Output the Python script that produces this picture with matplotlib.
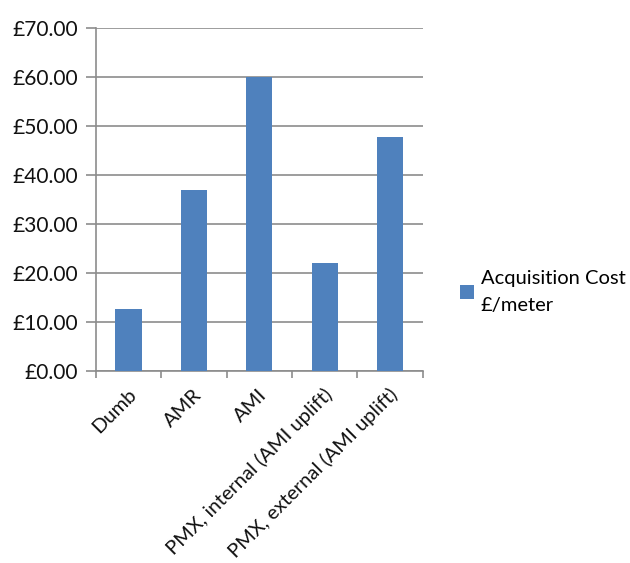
import matplotlib.pyplot as plt
import matplotlib.transforms as mtransforms
import numpy as np

# dados
categorias = ['Dumb', 'AMR', 'AMI', 'PMX, internal (AMI uplift)', 'PMX, external (AMI uplift)']
custo = [12.65, 36.9, 60.0, 22.0, 47.7]
serie = 'Acquisition Cost\n£/meter'
y_ticks = [0, 10, 20, 30, 40, 50, 60, 70]

plt.rcParams['font.family'] = ['Lato', 'DejaVu Sans']
cinza = '#8c8c8c'
azul = '#4f81bd'

fig = plt.figure(figsize=(6.3, 5.63), dpi=100)
ax = fig.add_axes([0.152, 0.341, 0.519, 0.609])

x = np.arange(len(categorias))
ax.bar(x, custo, width=0.4, color=azul, label=serie, zorder=3)

ax.set_xlim(-0.5, len(categorias) - 0.5)
ax.set_ylim(0, 70)
ax.set_yticks(y_ticks)
ax.set_yticklabels(['£%.2f' % v for v in y_ticks], fontsize=15, color='#111111')
ax.yaxis.grid(True, color=cinza, linewidth=1.2, zorder=0)

# rótulos do eixo x centrados, ticks nas bordas das categorias
ax.set_xticks(x)
ax.set_xticklabels(categorias, rotation=45, ha='right', va='center',
                   rotation_mode='anchor', fontsize=14.5, color='#111111')
ax.tick_params(axis='x', which='major', length=0, pad=15)
ax.set_xticks(np.arange(len(categorias) + 1) - 0.5, minor=True)
ax.tick_params(axis='x', which='minor', length=5, color=cinza, width=1.2)
ax.tick_params(axis='y', length=7, color=cinza, width=1.2, pad=6)

# pequeno deslocamento para a direita dos rótulos rotacionados
desloc = mtransforms.ScaledTranslation(5 / 100, 0, fig.dpi_scale_trans)
for lbl in ax.get_xticklabels():
    lbl.set_transform(lbl.get_transform() + desloc)

for lado in ['top', 'right']:
    ax.spines[lado].set_visible(False)
for lado in ['left', 'bottom']:
    ax.spines[lado].set_color(cinza)
    ax.spines[lado].set_linewidth(1.2)

leg = ax.legend(loc='center left', bbox_to_anchor=(1.06, 0.23), frameon=False,
                fontsize=14.5, handlelength=0.65, handleheight=0.65, handletextpad=0.35)
for t in leg.get_texts():
    t.set_linespacing(1.7)

plt.savefig('out.png', dpi=100)
